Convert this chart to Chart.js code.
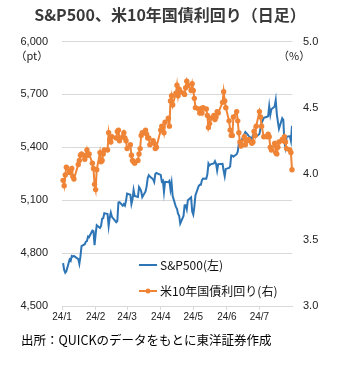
<!DOCTYPE html>
<html>
<head>
<meta charset="utf-8">
<script src="https://cdn.jsdelivr.net/npm/chart.js@4.4.1/dist/chart.umd.min.js"></script>
<style>
  html, body { margin: 0; padding: 0; background: #fff; }
  #wrap { width: 340px; height: 366px; }
</style>
</head>
<body>
<div id="wrap"><canvas id="c" width="340" height="366"></canvas></div>
<script>
// Trading days, 2024 (month/day)
const tradeDates = [
  '1/2','1/3','1/4','1/5','1/8','1/9','1/10','1/11','1/12','1/16','1/17','1/18','1/19','1/22','1/23','1/24','1/25','1/26','1/29','1/30','1/31',
  '2/1','2/2','2/5','2/6','2/7','2/8','2/9','2/12','2/13','2/14','2/15','2/16','2/20','2/21','2/22','2/23','2/26','2/27','2/28','2/29',
  '3/1','3/4','3/5','3/6','3/7','3/8','3/11','3/12','3/13','3/14','3/15','3/18','3/19','3/20','3/21','3/22','3/25','3/26','3/27','3/28',
  '4/1','4/2','4/3','4/4','4/5','4/8','4/9','4/10','4/11','4/12','4/15','4/16','4/17','4/18','4/19','4/22','4/23','4/24','4/25','4/26','4/29','4/30',
  '5/1','5/2','5/3','5/6','5/7','5/8','5/9','5/10','5/13','5/14','5/15','5/16','5/17','5/20','5/21','5/22','5/23','5/24','5/28','5/29','5/30','5/31',
  '6/3','6/4','6/5','6/6','6/7','6/10','6/11','6/12','6/13','6/14','6/17','6/18','6/20','6/21','6/24','6/25','6/26','6/27','6/28',
  '7/1','7/2','7/3','7/5','7/8','7/9','7/10','7/11','7/12','7/15','7/16','7/17','7/18','7/19','7/22','7/23','7/24','7/25','7/26','7/29','7/30','7/31'
];

// S&P500 close (pt)
const sp500 = [
  4742.83,4704.81,4688.68,4697.24,4763.54,4756.50,4783.45,4780.24,4783.83,4765.98,4739.21,4780.94,4839.81,4850.43,4864.60,4868.55,4894.16,4890.97,4927.93,4924.97,4845.65,
  4906.19,4958.61,4942.81,4954.23,4995.06,4997.91,5026.61,5021.84,4953.17,5000.62,5029.73,5005.57,4975.51,4981.80,5087.03,5088.80,5069.53,5078.18,5069.76,5096.27,
  5137.08,5130.95,5078.65,5104.76,5157.36,5123.69,5117.94,5175.27,5165.31,5150.48,5117.09,5149.42,5178.51,5224.62,5241.53,5234.18,5218.19,5203.58,5248.49,5254.35,
  5243.77,5205.81,5211.49,5147.21,5204.34,5202.39,5209.91,5160.64,5199.06,5123.41,5061.82,5051.41,5022.21,5011.12,4967.23,5010.60,5070.55,5071.63,5048.42,5099.96,5116.17,5035.69,
  5018.39,5064.20,5127.79,5180.74,5187.70,5187.67,5214.08,5222.68,5221.42,5246.68,5308.15,5297.10,5303.27,5308.13,5321.41,5307.01,5267.84,5304.72,5306.04,5266.95,5235.48,5277.51,
  5283.40,5291.34,5354.03,5352.96,5346.99,5360.79,5375.32,5421.03,5433.74,5431.60,5473.23,5487.03,5473.17,5464.62,5447.87,5469.30,5477.90,5482.87,5460.48,
  5475.09,5509.01,5537.02,5567.19,5572.85,5576.98,5633.91,5584.54,5615.35,5631.22,5667.20,5588.27,5544.59,5505.00,5564.41,5555.74,5427.13,5399.22,5459.10,5463.54,5436.44,5522.30
];

// US 10-year Treasury yield (%)
const ust10y = [
  3.95,3.91,3.99,4.05,4.01,4.02,4.04,3.98,3.96,4.07,4.10,4.14,4.15,4.11,4.14,4.18,4.14,4.15,4.08,4.04,3.92,
  3.88,4.03,4.16,4.09,4.10,4.15,4.18,4.18,4.31,4.26,4.24,4.28,4.27,4.32,4.33,4.25,4.28,4.31,4.27,4.25,
  4.19,4.22,4.14,4.10,4.09,4.08,4.10,4.15,4.19,4.29,4.31,4.33,4.30,4.27,4.27,4.22,4.25,4.23,4.19,4.20,
  4.33,4.36,4.35,4.31,4.39,4.42,4.36,4.55,4.59,4.52,4.61,4.67,4.59,4.64,4.62,4.61,4.60,4.65,4.70,4.67,4.63,4.68,
  4.63,4.57,4.50,4.49,4.46,4.49,4.46,4.50,4.49,4.44,4.35,4.38,4.42,4.44,4.41,4.43,4.47,4.46,4.54,4.62,4.55,4.50,
  4.40,4.33,4.29,4.29,4.43,4.47,4.40,4.31,4.24,4.21,4.28,4.22,4.25,4.26,4.23,4.24,4.32,4.29,4.36,
  4.47,4.43,4.36,4.28,4.28,4.30,4.28,4.20,4.18,4.23,4.16,4.15,4.20,4.24,4.26,4.25,4.28,4.24,4.19,4.18,4.16,4.03
];

// Month ticks along the date axis
const monthStarts = ['1/1','2/1','3/1','4/1','5/1','6/1','7/1'];
const monthLabels = ['24/1','24/2','24/3','24/4','24/5','24/6','24/7'];
const axisEnd = '7/31';

// Axis ranges
const spxRange = [4500, 6000];
const spxStep = 300;
const yieldRange = [3.0, 5.0];
const yieldStep = 0.5;

const titleText = 'S&P500、米10年国債利回り（日足）';
const leftUnit = '（pt）';
const rightUnit = '（%）';
const sp500Label = 'S&P500(左)';
const yieldLabel = '米10年国債利回り(右)';
const sourceText = '出所：QUICKのデータをもとに東洋証券作成';

const BLUE = '#2E75B6';
const ORANGE = '#EF8436';
const GRID = '#D9D9D9';
const TEXT = '#222222';

// day offset from Jan 1, 2024
const YEAR = 2024;
const base = Date.UTC(YEAR, 0, 1);
function dayOf(md) {
  const [m, d] = md.split('/').map(Number);
  return (Date.UTC(YEAR, m - 1, d) - base) / 86400000;
}
const xs = tradeDates.map(dayOf);
const tickDays = monthStarts.map(dayOf);

const spxPoints = xs.map((x, i) => ({ x, y: sp500[i] }));
const yieldPoints = xs.map((x, i) => ({ x, y: ust10y[i] }));

const CJK = '"Noto Sans CJK JP", sans-serif';
const NUM = '"Liberation Sans", Arial, sans-serif';

const overlay = {
  id: 'overlay',
  afterDraw(chart) {
    const ctx = chart.ctx;
    ctx.save();
    // title
    ctx.fillStyle = '#3A3A3A';
    ctx.font = 'bold 16px ' + CJK;
    ctx.textAlign = 'center';
    ctx.textBaseline = 'middle';
    ctx.fillText(titleText, 170, 15);

    // units under the top tick labels
    ctx.fillStyle = TEXT;
    ctx.font = '11px ' + CJK;
    ctx.textAlign = 'left';
    ctx.fillText(leftUnit, 15.5, 56);
    ctx.fillText(rightUnit, 278, 56);

    // legend inside the plot, lower right
    const lx = 139, lw = 18, tx = 160;
    const y1 = 265, y2 = 291;
    ctx.lineWidth = 2;
    ctx.strokeStyle = BLUE;
    ctx.beginPath(); ctx.moveTo(lx, y1); ctx.lineTo(lx + lw, y1); ctx.stroke();
    ctx.strokeStyle = ORANGE;
    ctx.beginPath(); ctx.moveTo(lx, y2); ctx.lineTo(lx + lw, y2); ctx.stroke();
    ctx.fillStyle = ORANGE;
    ctx.beginPath(); ctx.arc(lx + lw / 2, y2, 2.5, 0, Math.PI * 2); ctx.fill();
    ctx.fillStyle = '#111';
    ctx.font = '12px ' + CJK;
    ctx.fillText(sp500Label, tx, y1);
    ctx.fillText(yieldLabel, tx, y2);

    // source note
    ctx.fillStyle = '#000';
    ctx.font = '12.5px ' + CJK;
    ctx.fillText(sourceText, 21, 340);
    ctx.restore();
  }
};

new Chart(document.getElementById('c'), {
  type: 'line',
  data: {
    datasets: [
      {
        label: yieldLabel,
        data: yieldPoints,
        yAxisID: 'y1',
        borderColor: ORANGE,
        backgroundColor: ORANGE,
        borderWidth: 2,
        pointRadius: 2.7,
        pointBorderWidth: 0,
        pointBackgroundColor: ORANGE,
        tension: 0,
        clip: false,
        order: 1
      },
      {
        label: sp500Label,
        data: spxPoints,
        yAxisID: 'y',
        borderColor: BLUE,
        backgroundColor: BLUE,
        borderWidth: 2,
        pointRadius: 0,
        tension: 0,
        order: 2
      }
    ]
  },
  options: {
    responsive: false,
    animation: false,
    events: [],
    layout: { padding: { top: 41.5, bottom: 40, left: 0, right: 0 } },
    plugins: { legend: { display: false }, title: { display: false }, tooltip: { enabled: false } },
    scales: {
      x: {
        type: 'linear',
        min: 0,
        max: dayOf(axisEnd),
        afterFit(s) { s.height = 20; },
        afterBuildTicks(s) { s.ticks = tickDays.map(v => ({ value: v })); },
        grid: { drawOnChartArea: false, drawTicks: true, tickLength: 4, color: GRID },
        border: { color: GRID, width: 1 },
        ticks: {
          autoSkip: false, maxRotation: 0, padding: 1,
          color: TEXT, font: { family: NUM, size: 10 },
          callback(v, i) { return monthLabels[i]; }
        }
      },
      y: {
        position: 'left',
        min: spxRange[0], max: spxRange[1],
        afterFit(s) { s.width = 62; },
        grid: { color: GRID, lineWidth: 1, drawTicks: false },
        border: { display: false },
        ticks: {
          stepSize: spxStep, padding: 14, color: TEXT,
          font: { family: NUM, size: 11 },
          callback(v) { return v.toLocaleString('en-US'); }
        }
      },
      y1: {
        position: 'right',
        min: yieldRange[0], max: yieldRange[1],
        afterFit(s) { s.width = 48; },
        grid: { display: false, drawTicks: false },
        border: { display: false },
        ticks: {
          stepSize: yieldStep, padding: 11, color: TEXT,
          font: { family: NUM, size: 11 },
          callback(v) { return v.toFixed(1); }
        }
      }
    }
  },
  plugins: [overlay]
});
</script>
</body>
</html>
